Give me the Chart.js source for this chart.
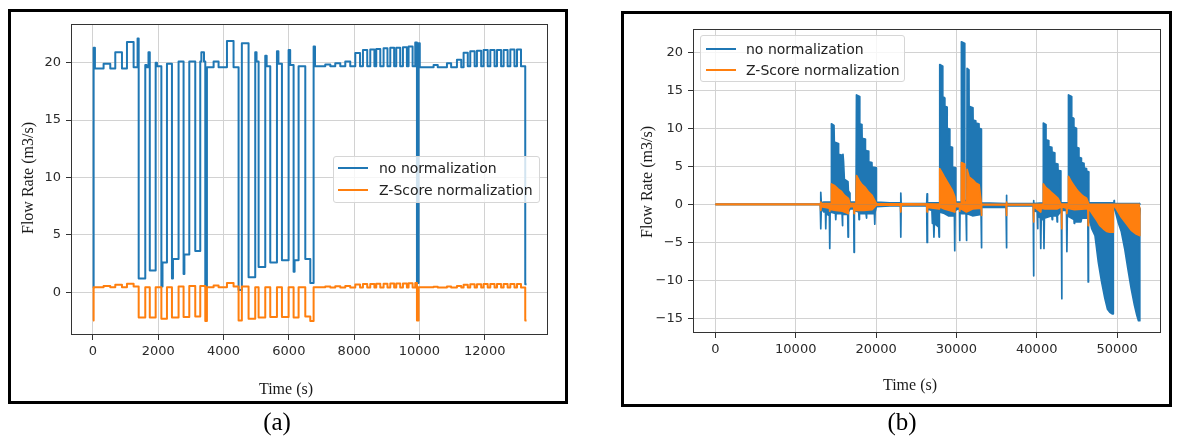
<!DOCTYPE html>
<html><head><meta charset="utf-8">
<script src="https://cdn.jsdelivr.net/npm/chart.js@4.4.1/dist/chart.umd.min.js"></script>
<style>
body{margin:0;background:#fff}
#page{position:relative;width:1178px;height:437px;overflow:hidden;background:#fff}
.box{position:absolute;box-sizing:border-box;border:3px solid #000}
canvas{position:absolute;top:0}
.t{position:absolute;font-family:'Liberation Serif','Times New Roman',serif;color:#1a1a1a;white-space:nowrap;transform:translate(-50%,-50%);line-height:1}
.yt{transform:translate(-50%,-50%) rotate(-90deg)}
.legend{position:absolute;box-sizing:border-box;border:1px solid #d6d6d6;border-radius:3px;background:rgba(255,255,255,0.8);font-family:'DejaVu Sans',sans-serif;font-size:14px;color:#222}
.legend .sw{position:absolute;height:2px;width:30px}
.legend .tx{position:absolute;white-space:nowrap;transform:translateY(-50%);line-height:1}
</style></head>
<body>
<div id="page">
  <div class="box" style="left:8px;top:9px;width:560px;height:395px"></div>
  <div class="box" style="left:621px;top:11px;width:551px;height:396px"></div>
  <canvas id="ca" width="580" height="437" style="left:0;width:580px;height:437px"></canvas>
  <canvas id="cb" width="588" height="437" style="left:590px;width:588px;height:437px"></canvas>
  <div class="t yt" style="left:28px;top:178px;font-size:16px">Flow Rate (m3/s)</div>
  <div class="t" style="left:286px;top:389px;font-size:16px">Time (s)</div>
  <div class="t yt" style="left:647px;top:182px;font-size:16px">Flow Rate (m3/s)</div>
  <div class="t" style="left:910px;top:385px;font-size:16px">Time (s)</div>
  <div class="t" style="left:277px;top:421px;font-size:25px;color:#000">(a)</div>
  <div class="t" style="left:902px;top:421px;font-size:25px;color:#000">(b)</div>
  <div class="legend" id="legA" style="left:333px;top:156px;width:207px;height:47px"></div>
  <div class="legend" id="legB" style="left:700px;top:35px;width:205px;height:47px"></div>
</div>
<script>
// ---------- data ----------
const seriesNames = ['no normalization', 'Z-Score normalization'];
const seriesColors = ['#1f77b4', '#ff7f0e'];

// (a) tick values
const xTicksA = [0, 2000, 4000, 6000, 8000, 10000, 12000];
const yTicksA = [0, 5, 10, 15, 20];
// (a) [time s, flow] step series
const blueA = [[0,0.4],[20,21.3],[60,19.5],[325,19.9],[530,19.5],[683,20.9],[888,19.5],[1041,21.8],[1245,19.6],[1366,22.1],[1400,1.2],
 [1602,19.8],[1640,19.6],[1700,20.9],[1740,1.9],[1920,20.0],[1960,19.7],[2095,0.5],[2130,2.6],[2266,19.9],[2419,1.2],[2450,2.9],[2622,20.1],
 [2775,1.6],[2800,3.3],[2950,20.1],[3133,3.6],[3286,20.1],[3320,20.9],[3400,20.1],[3440,0.5],[3490,19.6],[3695,20.1],[3847,19.6],[4104,21.9],
 [4306,19.6],[4460,0.2],[4560,21.7],[4766,1.3],[4970,20.9],[5010,20.1],[5073,2.2],[5277,20.6],[5320,19.7],[5430,2.6],[5635,21.0],[5680,19.9],
 [5788,2.8],[5992,21.1],[6040,19.8],[6145,1.8],[6175,2.8],[6298,19.7],[6503,2.9],[6656,0.8],[6758,21.4],[6800,19.7],
 [7115,19.85],[7270,19.7],[7421,19.95],[7575,19.7],[7728,20.1],[7880,19.7],[8034,20.85],[8180,19.7],[8269,21.1],[8400,19.7],[8493,21.15],
 [8620,19.7],[8677,21.2],[8800,19.7],[8901,21.25],[9020,19.7],[9106,21.3],[9225,19.7],[9290,21.3],[9410,19.7],[9494,21.35],[9615,19.7],
 [9667,21.4],[9790,19.7],[9871,21.75],[9923,0.8],[9973,21.7],[10010,19.6],
 [10433,19.8],[10560,19.6],[10842,19.95],[10970,19.6],[11148,20.25],[11280,19.6],[11352,20.86],[11480,19.7],[11556,21.0],[11690,19.7],
 [11760,21.05],[11890,19.7],[11964,21.1],[12090,19.7],[12170,21.1],[12300,19.7],[12374,21.1],[12500,19.7],[12578,21.1],[12700,19.7],
 [12783,21.15],[12910,19.7],[12987,21.15],[13110,19.7],[13240,0.7],[13280,0.7]];
const orangeA = [[0,-2.45],[20,0.45],[325,0.55],[530,0.45],[683,0.65],[888,0.45],[1041,0.75],[1245,0.5],[1400,-2.2],[1602,0.45],[1740,-2.2],
 [1920,0.45],[2095,-2.3],[2266,0.45],[2419,-2.2],[2622,0.5],[2775,-2.15],[2950,0.55],[3133,-2.1],[3286,0.55],[3440,-2.5],[3490,0.45],
 [3695,0.6],[3847,0.45],[4104,0.8],[4306,0.5],[4460,-2.45],[4560,0.5],[4766,-2.3],[4970,0.45],[5073,-2.2],[5277,0.45],[5430,-2.15],
 [5635,0.45],[5788,-2.15],[5992,0.45],[6145,-2.2],[6298,0.45],[6503,-2.1],[6656,-2.5],[6758,0.45],
 [7115,0.5],[7270,0.42],[7421,0.52],[7575,0.42],[7728,0.55],[7880,0.42],[8034,0.68],[8180,0.42],[8269,0.72],[8400,0.42],[8493,0.73],
 [8620,0.42],[8677,0.74],[8800,0.42],[8901,0.75],[9020,0.42],[9106,0.76],[9225,0.42],[9290,0.76],[9410,0.42],[9494,0.77],[9615,0.42],
 [9667,0.78],[9790,0.42],[9871,0.8],[9923,-2.45],[9973,0.45],
 [10433,0.48],[10560,0.42],[10842,0.5],[10970,0.42],[11148,0.55],[11280,0.42],[11352,0.66],[11480,0.42],[11556,0.7],[11690,0.42],
 [11760,0.7],[11890,0.42],[11964,0.72],[12090,0.42],[12170,0.72],[12300,0.42],[12374,0.72],[12500,0.42],[12578,0.72],[12700,0.42],
 [12783,0.73],[12910,0.42],[12987,0.73],[13110,0.42],[13240,-2.45],[13280,-2.45]];

// (b) tick values
const xTicksB = [0, 10000, 20000, 30000, 40000, 50000];
const yTicksB = [-15, -10, -5, 0, 5, 10, 15, 20];
// (b) upper / lower envelopes of the fast-oscillating signals [time s, flow]
const blueHiB = [[0,0],[13050,0],[13114,1.6],[13180,0.2],[13500,0.3],[14400,0.3],[14446,10.6],[14760,10.4],[14800,8.2],[15300,8.0],
 [15330,6.6],[15700,6.5],[15720,5.7],[15880,6.6],[15950,5.6],[16050,3.3],[16500,3.0],[16550,1.8],[16720,1.5],[16750,0.3],[17500,0.3],
 [17560,14.4],[17950,14.2],[17970,10.6],[18240,10.5],[18260,8.7],[18650,8.6],[18673,7.1],[19060,7.0],[19086,5.6],[19480,5.5],[19500,4.9],
 [20020,4.8],[20040,0.3],[21700,0.2],[23030,0.2],[23077,1.5],[23120,0.1],[26300,0.1],[26348,1.4],[26400,0.2],[27880,0.2],[27925,18.4],
 [28250,18.2],[28300,14.2],[28540,14.0],[28560,12.9],[28830,12.8],[28850,10.0],[29160,9.9],[29180,7.6],[29490,7.5],[29510,4.9],[29900,4.8],
 [29920,0.3],[30600,0.3],[30622,21.4],[31000,21.2],[31037,0.5],[31300,0.5],[31328,17.9],[31560,17.7],[31577,12.9],[32060,12.7],[32075,11.1],
 [32400,11.0],[32410,10.7],[32810,10.6],[32822,10.0],[33100,9.9],[33112,0.2],[36180,0.1],[36225,1.2],[36270,0.1],[39560,0.1],[39600,0.5],
 [39640,0.1],[40780,0.2],[40820,10.7],[41130,10.5],[41150,8.5],[41480,8.4],[41500,7.6],[41880,7.5],[41900,6.9],[42230,6.8],[42250,5.4],
 [42630,5.3],[42650,4.5],[42980,4.4],[43000,0.2],[43900,0.2],[43950,14.4],[44330,14.2],[44350,11.5],[44600,11.3],[44620,10.2],[44930,10.0],
 [44950,7.5],[45230,7.4],[45250,6.2],[45540,6.1],[45560,5.5],[45880,5.4],[45900,4.8],[46180,4.7],[46200,4.4],[46460,4.3],[46480,0.2],
 [49600,0.2],[49630,0.5],[49660,0.1],[52800,0.1],[52820,0]];
const blueLoB = [[0,0],[13050,0],[13114,-3.2],[13180,-0.5],[13500,-1.0],[13700,-1.0],[13736,-3.2],[13780,-1.2],[14190,-1.5],[14234,-5.8],
 [14280,-1.0],[14940,-1.2],[14981,-2.0],[15020,-1.2],[15770,-1.2],[15812,-2.8],[15850,-1.3],[16470,-1.3],[16513,-4.3],[16560,-1.0],
 [16750,-0.6],[17220,-0.6],[17260,-6.3],[17300,-0.8],[17840,-1.0],[17884,-2.0],[17930,-1.2],[18750,-1.2],[18797,-1.8],[18840,-1.2],
 [19790,-1.2],[19838,-2.6],[19880,-1.0],[20040,-0.3],[21700,-0.2],[23030,-0.2],[23077,-4.3],[23120,-0.2],[26300,-0.2],[26348,-5.0],
 [26400,-0.6],[26950,-0.8],[27012,-2.5],[27150,-2.2],[27200,-4.3],[27250,-2.5],[27800,-3.0],[27842,-4.3],[27880,-1.0],[28500,-1.2],
 [29000,-1.5],[29750,-1.5],[29793,-6.1],[29840,-0.8],[30380,-0.5],[30415,-4.75],[30450,-0.5],[30622,-1.2],[31200,-1.2],[31245,-4.75],
 [31290,-1.2],[32000,-1.5],[33070,-1.3],[33112,-5.7],[33150,-0.4],[36180,-0.4],[36225,-5.7],[36270,-0.2],[39560,-0.2],[39600,-9.4],
 [39640,-0.8],[40060,-1.0],[40100,-3.2],[40150,-1.5],[40450,-1.8],[40500,-5.8],[40550,-2.0],[40860,-2.0],[40900,-5.8],[40950,-1.8],
 [41880,-1.5],[41926,-2.0],[41970,-1.5],[42500,-1.5],[42540,-2.3],[42580,-1.5],[43060,-0.8],[43100,-12.4],[43140,-0.8],[43700,-0.8],
 [43750,-6.2],[43800,-1.5],[44630,-2.0],[44670,-2.5],[44710,-2.3],[45500,-2.3],[45600,-1.8],[46360,-1.8],[46402,-10.2],[46440,-1.5],
 [46640,-2.3],[46844,-3.2],[47253,-4.1],[47663,-7.6],[48073,-10.2],[48483,-12.4],[48811,-13.8],[49098,-14.2],[49384,-14.4],[49507,-14.4],
 [49530,-0.2],[49712,-0.6],[50122,-2.3],[50532,-3.6],[50942,-5.8],[51351,-8.5],[51761,-11.1],[52171,-13.3],[52458,-14.6],[52663,-15.3],
 [52786,-15.3],[52800,-0.6],[52850,-1.6],[52870,-0.5]];
const orangeHiB = [[0,0],[13050,0],[13114,0.3],[13180,0.1],[14400,0.1],[14446,2.7],[14800,2.5],[15300,2.0],[15700,1.7],[16050,1.2],
 [16550,0.8],[16750,0.1],[17500,0.1],[17560,3.8],[17970,3.0],[18260,2.6],[18673,2.2],[19086,1.6],[19500,1.2],[20040,0.1],[27880,0.05],
 [27925,4.7],[28300,4.0],[28560,3.5],[28850,3.0],[29180,2.4],[29510,1.8],[29800,1.0],[29920,0.1],[30600,0.1],[30622,5.5],[31000,5.3],
 [31037,0.3],[31300,0.3],[31328,4.6],[31577,3.6],[32075,3.2],[32410,2.8],[32822,2.6],[33112,0.05],[36180,0],[36225,0.3],[36270,0],
 [40780,0.05],[40820,2.7],[41150,2.2],[41500,1.9],[41900,1.5],[42250,1.2],[42650,0.8],[43000,0.05],[43900,0.05],[43950,3.7],[44350,2.9],
 [44620,2.5],[44950,2.0],[45250,1.6],[45560,1.3],[45900,1.0],[46200,0.8],[46480,0],[52820,0]];
const orangeLoB = [[0,0],[13050,0],[13114,-0.8],[13180,-0.3],[14190,-0.5],[14234,-0.9],[14280,-0.5],[14446,-0.7],[15000,-0.8],[15812,-0.9],
 [16513,-1.2],[16560,-0.6],[16750,-0.3],[17220,-0.3],[17260,-1.2],[17300,-0.6],[17560,-0.8],[18500,-0.8],[19500,-0.7],[20040,-0.1],
 [23030,-0.05],[23077,-1.0],[23120,-0.05],[26300,-0.05],[26348,-1.0],[26400,-0.4],[27842,-0.6],[27880,-0.3],[28500,-0.6],[29793,-1.0],
 [29840,-0.3],[30380,-0.3],[30415,-0.9],[30450,-0.3],[30622,-0.6],[31245,-1.0],[32000,-0.6],[33070,-0.5],[33112,-1.45],[33150,-0.05],
 [36180,-0.05],[36225,-1.45],[36270,-0.05],[39560,-0.05],[39600,-2.3],[39640,-0.3],[40500,-1.0],[40550,-0.5],[41000,-0.6],[42500,-0.6],
 [43060,-0.3],[43100,-3.2],[43140,-0.3],[43700,-0.5],[43750,-1.2],[43800,-0.5],[44700,-0.7],[46000,-0.6],[46360,-0.6],[46402,-2.8],
 [46440,-0.6],[46640,-0.8],[47050,-1.45],[47460,-2.1],[47870,-2.8],[48280,-3.2],[48690,-3.55],[49098,-3.65],[49507,-3.65],[49530,-0.05],
 [49712,-0.3],[49920,-0.6],[50532,-1.7],[51150,-2.55],[51761,-3.4],[52380,-3.9],[52786,-4.1],[52800,-0.3],[52850,-0.3]];

// ---------- helpers ----------
const pts = a => a.map(([x, y]) => ({x, y}));
const fmt = v => v < 0 ? '\u2212' + Math.abs(v) : String(v);
const tickFont = {family: 'DejaVu Sans', size: 13};

function makeScales(xr, yr, xt, yt) {
  const common = {
    type: 'linear',
    grid: {color: '#d2d2d2', lineWidth: 1, tickLength: 5, tickColor: '#333'},
    border: {display: false},
  };
  return {
    x: Object.assign({}, common, {
      min: xr[0], max: xr[1],
      afterBuildTicks: s => { s.ticks = xt.map(v => ({value: v})); },
      afterFit: s => { s.height = 30; },
      ticks: {callback: fmt, font: tickFont, color: '#2a2a2a', padding: 4, autoSkip: false, maxRotation: 0}
    }),
    y: Object.assign({}, common, {
      min: yr[0], max: yr[1],
      afterBuildTicks: s => { s.ticks = yt.map(v => ({value: v})); },
      afterFit: s => { s.width = 50; },
      ticks: {callback: fmt, font: tickFont, color: '#2a2a2a', padding: 5, autoSkip: false}
    })
  };
}

const frame = {
  id: 'frame',
  afterDatasetsDraw(c) {
    const {ctx, chartArea: a} = c;
    ctx.save();
    ctx.strokeStyle = '#333';
    ctx.lineWidth = 1;
    ctx.strokeRect(Math.round(a.left) + 0.5, Math.round(a.top) + 0.5,
                   Math.round(a.right - a.left) - 1, Math.round(a.bottom - a.top) - 1);
    ctx.restore();
  }
};

const baseOpts = (padding, scales) => ({
  responsive: false, animation: false, devicePixelRatio: 1, events: [],
  layout: {padding},
  plugins: {legend: {display: false}, tooltip: {enabled: false}},
  scales
});

const lineDs = (label, data, color, order, extra) => Object.assign({
  label, data: pts(data), borderColor: color, backgroundColor: color,
  borderWidth: 2, pointRadius: 0, borderJoinStyle: 'round', tension: 0, order
}, extra || {});

// ---------- chart (a) ----------
new Chart(document.getElementById('ca'), {
  type: 'line',
  data: {datasets: [
    lineDs(seriesNames[0], blueA, seriesColors[0], 2, {stepped: true, fill: false}),
    lineDs(seriesNames[1], orangeA, seriesColors[1], 1, {stepped: true, fill: false})
  ]},
  options: baseOpts({left: 21, right: 32, top: 24, bottom: 72},
    makeScales([-673, 13937], [-3.72, 23.37], xTicksA, yTicksA)),
  plugins: [frame]
});

// ---------- chart (b) ----------
new Chart(document.getElementById('cb'), {
  type: 'line',
  data: {datasets: [
    lineDs(seriesNames[0], blueHiB, seriesColors[0], 2, {fill: 'origin', borderWidth: 1.7}),
    lineDs(seriesNames[0], blueLoB, seriesColors[0], 2, {fill: 'origin', borderWidth: 1.7}),
    lineDs(seriesNames[1], orangeHiB, seriesColors[1], 1, {fill: 'origin', borderWidth: 1.7}),
    lineDs(seriesNames[1], orangeLoB, seriesColors[1], 1, {fill: 'origin', borderWidth: 1.7})
  ]},
  options: baseOpts({left: 53, right: 17, top: 29, bottom: 74},
    makeScales([-2789, 55465], [-16.92, 23.08], xTicksB, yTicksB)),
  plugins: [frame]
});

// ---------- legends ----------
function buildLegend(id, rows, swLeft, txLeft) {
  const el = document.getElementById(id);
  seriesNames.forEach((name, i) => {
    const sw = document.createElement('div');
    sw.className = 'sw';
    sw.style.left = swLeft + 'px';
    sw.style.top = (rows[i] - 1) + 'px';
    sw.style.background = seriesColors[i];
    el.appendChild(sw);
    const tx = document.createElement('div');
    tx.className = 'tx';
    tx.style.left = txLeft + 'px';
    tx.style.top = rows[i] + 'px';
    tx.textContent = name;
    el.appendChild(tx);
  });
}
buildLegend('legA', [11, 33], 4, 45);
buildLegend('legB', [13, 34], 5, 45);
</script>
</body></html>
